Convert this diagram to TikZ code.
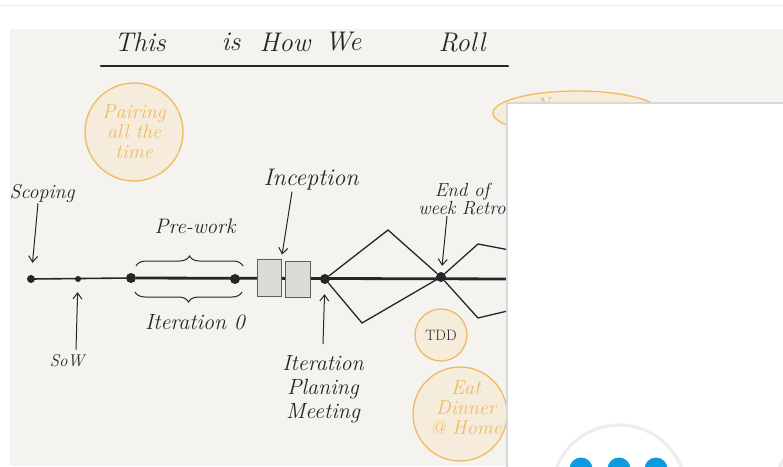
\documentclass[tikz,border=0pt]{standalone}
\usepackage{tikz}
\usetikzlibrary{decorations.pathreplacing,shapes.geometric,arrows.meta}

\definecolor{ink}{HTML}{262626}
\definecolor{canvas}{HTML}{F4F3EF}
\definecolor{bubbleline}{HTML}{F0BB5E}
\definecolor{bubblefill}{HTML}{F5ECDC}
\definecolor{boxgray}{HTML}{DCDBD8}
\definecolor{panelgray}{HTML}{D8D8D8}
\definecolor{chatgray}{HTML}{EDEDED}
\definecolor{chatblue}{HTML}{0A9BE0}

\tikzset{
  hand/.style={font=\fontsize{20}{22}\selectfont\itshape, text=ink, align=center, inner sep=1pt},
  title/.style={font=\fontsize{27}{29}\selectfont\itshape, text=ink, inner sep=0pt},
  bubble/.style={circle, draw=bubbleline, fill=bubblefill, line width=1.3pt, inner sep=0pt},
  milestone/.style={circle, fill=ink, inner sep=0pt, minimum size=#1},
  incbox/.style={draw=ink!75, fill=boxgray, line width=0.9pt, inner sep=0pt},
  pointer/.style={-{Straight Barb[length=6pt,width=9pt]}, ink, line width=1pt},
}

\begin{document}
\begin{tikzpicture}[x=1pt,y=-1pt]

  \useasboundingbox (0,0) rectangle (783,466);

  % ========== Page ==========
  \fill[white] (0,0) rectangle (783,466);
  \draw[chatgray, line width=1pt] (0,5) -- (783,5);
  \fill[canvas] (10,29) rectangle (783,466);

  % ========== Title ==========
  \foreach \w/\x in {This/140, is/231, How/285, We/343, Roll/462}
    \node[title] (title-\w) at (\x,42) {\w};
  \draw[ink, line width=2.2pt, line cap=round] (101,66) -- (508,66);

  % ========== Bubbles ==========
  \node[bubble, minimum size=98pt, text=bubbleline, font=\fontsize{20}{20}\selectfont\itshape, align=center]
    (pairing) at (134,132) {Pairing\\all the\\time};
  \node[bubble, ellipse, minimum width=168pt, minimum height=44pt] (noblob) at (577,113) {};
  \node[hand, text=bubbleline] (notext) at (548,105) {No};
  \node[bubble, minimum size=52pt, font=\fontsize{15}{16}\selectfont, text=ink] (tdd) at (441,335) {TDD};
  \node[bubble, minimum size=94pt] (dinner) at (460,414) {};
  \node[hand, text=bubbleline, font=\fontsize{20}{20}\selectfont\itshape] (dinnertext) at (466,408) {Eat\\Dinner\\@ Home};

  % ========== Timeline ==========
  \node[milestone=8pt]  (d1) at (31,279) {};
  \node[milestone=6pt]  (d2) at (78,279) {};
  \node[milestone=10pt] (d3) at (131,278) {};
  \node[milestone=10pt] (d4) at (235,279) {};
  \node[milestone=10pt] (d5) at (325,279) {};
  \node[milestone=10pt] (d6) at (441,277) {};
  \coordinate (tend) at (520,279);

  \draw[ink, line width=1.6pt] (d1) -- (d3);
  \draw[ink, line width=2.8pt] (d3) -- (tend);

  % inception
  \node[incbox, minimum width=24pt, minimum height=37pt] (box1) at (269,277.5) {};
  \node[incbox, minimum width=25pt, minimum height=36pt] (box2) at (297.5,279) {};

  % iterations
  \coordinate (top1) at (388,230);
  \coordinate (bot1) at (362,323);
  \coordinate (top2) at (478,244);
  \coordinate (bot2) at (478,318);
  \coordinate (out2a) at (520,252);
  \coordinate (out2b) at (520,308);
  \draw[ink, line width=1.3pt] (d5) -- (top1) -- (d6) -- (top2) -- (out2a);
  \draw[ink, line width=1.3pt] (d5) -- (bot1) -- (d6) -- (bot2) -- (out2b);

  % pre-work / iteration 0
  \draw[ink, line width=1pt, decorate, decoration={brace, amplitude=10pt}]
    (136,266) -- (243,266);
  \draw[ink, line width=1pt, decorate, decoration={brace, amplitude=10pt, mirror}]
    (135,292) -- (242,292);

  % ========== Labels ==========
  \node[hand] (scoping) at (42,193) {Scoping};
  \node[hand, font=\fontsize{17}{19}\selectfont\itshape] (sow) at (67,361) {SoW};
  \node[hand, font=\fontsize{21}{22}\selectfont\itshape] (prework) at (195,226) {Pre-work};
  \node[hand, font=\fontsize{22}{22}\selectfont\itshape] (iter0) at (195,322) {Iteration 0};
  \node[hand, font=\fontsize{24}{24}\selectfont\itshape] (inception) at (311,180) {Inception};
  \node[hand, font=\fontsize{19}{16}\selectfont\itshape] (retro) at (462,199) {End of\\week Retro};
  \node[hand, font=\fontsize{22}{24}\selectfont\itshape] (ipm) at (323,389) {Iteration\\Planing\\Meeting};

  \draw[pointer, shorten >=12pt] ([xshift=-4pt]scoping.south) -- (d1);
  \draw[pointer, shorten >=10pt] ([xshift=9pt,yshift=4pt]sow.north) -- (d2);
  \draw[pointer, shorten >=4pt] ([xshift=-19pt]inception.south) -- (box1.north east);
  \draw[pointer, shorten >=10pt] ([yshift=10pt]ipm.north) -- (d5);
  \draw[pointer, shorten >=6pt] ([xshift=-15pt]retro.south) -- (d6);

  % ========== Overlay panel ==========
  \fill[white] (507,103) rectangle (783,466);
  \draw[panelgray, line width=2pt] (507,470) -- (507,103) -- (790,103);
  \draw[chatgray, line width=3pt] (619,492) circle [radius=67];
  \draw[chatgray, line width=3pt] (842,492) circle [radius=67];
  \foreach \i/\x in {1/581, 2/619, 3/656}
    \node[circle, fill=chatblue, inner sep=0pt, minimum size=23pt] (chat\i) at (\x,469) {};

\end{tikzpicture}
\end{document}
